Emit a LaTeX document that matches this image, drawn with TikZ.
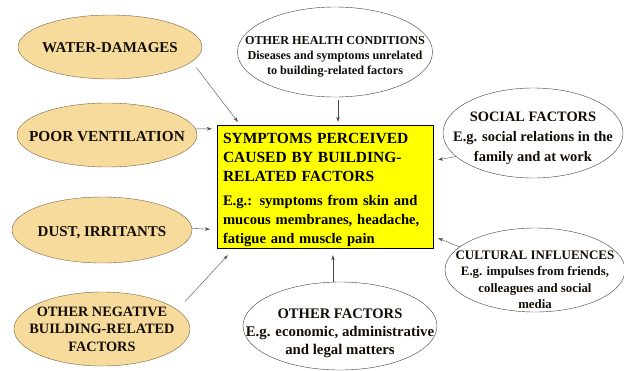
\documentclass[tikz,border=0pt]{standalone}
\usepackage{fontspec}
\setmainfont{Liberation Serif}
\usepackage{xcolor}
\usetikzlibrary{arrows.meta,shapes.geometric}

\definecolor{tanfill}{RGB}{246,219,156}
\definecolor{tanline}{RGB}{120,100,70}
\definecolor{coreyellow}{RGB}{255,255,0}

\begin{document}
\begin{tikzpicture}[
  x=1pt, y=-1pt,
  cause/.style={ellipse, draw=tanline, fill=tanfill, inner sep=0pt},
  influence/.style={ellipse, draw=black!75, fill=white, inner sep=0pt},
  txt/.style={inner sep=0pt, align=center, font=\bfseries, text=black!90!brown},
  core/.style={draw, fill=coreyellow, minimum width=216pt, minimum height=123pt, inner sep=0pt},
  coretxt/.style={inner sep=0pt, text width=204pt, align=left},
  arr/.style={-{Stealth[length=5pt,width=3.5pt]}, thin, black!70}
]
\useasboundingbox (0,0) rectangle (624,370);

% building-related causes
\node[cause, minimum width=184pt, minimum height=64pt] (water) at (110,47) {};
\node[cause, minimum width=180pt, minimum height=64pt] (vent) at (107,135) {};
\node[cause, minimum width=180pt, minimum height=66pt] (dust) at (102,230) {};
\node[cause, minimum width=176pt, minimum height=74pt] (negative) at (102,329) {};
\node[txt, font=\fontsize{15}{18}\selectfont\bfseries] (waterlbl) at ([yshift=-1pt]water) {WATER-DAMAGES};
\node[txt, font=\fontsize{15.3}{18}\selectfont\bfseries] (ventlbl) at ([yshift=-2pt]vent) {POOR VENTILATION};
\node[txt, font=\fontsize{15}{18}\selectfont\bfseries] (dustlbl) at ([yshift=-3pt]dust) {DUST, IRRITANTS};
\node[txt, font=\fontsize{14.3}{17.5}\selectfont\bfseries] (negativelbl) at (negative) {OTHER NEGATIVE\\BUILDING-RELATED\\FACTORS};

% central box
\node[core] (symptoms) at (325,186.5) {};
\node[coretxt, font=\fontsize{14.6}{19}\selectfont\bfseries] (symptomslbl) at ([yshift=-3.5pt]symptoms) {{\fontsize{15.5}{19}\selectfont SYMPTOMS PERCEIVED\\CAUSED BY BUILDING-\\RELATED FACTORS}\\[5pt]
  E.g.: symptoms from skin and\\mucous membranes, headache,\\fatigue and muscle pain};

% other influences
\node[influence, minimum width=195pt, minimum height=90pt] (health) at (335,52) {};
\node[influence, minimum width=180pt, minimum height=90pt] (social) at (533,133) {};
\node[influence, minimum width=180pt, minimum height=84pt] (cultural) at (535,270) {};
\node[influence, minimum width=194pt, minimum height=88pt] (otherf) at (340,326) {};
\node[txt, font=\fontsize{12.2}{15}\selectfont\bfseries] (healthlbl) at ([yshift=-5pt]health) {{\fontsize{12.2}{15}\selectfont OTHER HEALTH CONDITIONS}\\Diseases and symptoms unrelated\\to building-related factors};
\node[txt, font=\fontsize{14.5}{20}\selectfont\bfseries] (sociallbl) at ([yshift=-5pt]social) {{\fontsize{14.4}{20}\selectfont SOCIAL FACTORS}\\E.g. social relations in the\\family and at work};
\node[txt, font=\fontsize{12.8}{16.5}\selectfont\bfseries] (culturallbl) at ([yshift=-10pt]cultural) {{\fontsize{13}{16.5}\selectfont CULTURAL INFLUENCES}\\E.g. impulses from friends,\\colleagues and social\\media};
\node[txt, font=\fontsize{14.8}{18}\selectfont\bfseries] (otherflbl) at ([yshift=-7pt]otherf) {{\fontsize{14.6}{18}\selectfont OTHER FACTORS}\\E.g. economic, administrative\\and legal matters};

% arrows into the box
\draw[arr] ([xshift=15pt]water.-16) -- ([xshift=21pt,yshift=3pt]symptoms.north west);
\draw[arr] (vent.4) -- ([xshift=-5pt,yshift=-4pt]symptoms.north west);
\draw[arr] (dust.1) -- ([xshift=-7pt,yshift=19pt]symptoms.south west);
\draw[arr] ([xshift=24pt]negative.25) -- ([xshift=11pt,yshift=-7pt]symptoms.south west);
\draw[arr, shorten <=3pt] ([xshift=3pt]health.south) -- ([xshift=3pt,yshift=3pt]health.south |- symptoms.north);
\draw[arr] (social.197) -- ([xshift=5pt,yshift=-35pt]symptoms.north east);
\draw[arr] (cultural.163) -- ([xshift=5pt,yshift=10pt]symptoms.south east);
\draw[arr] ([xshift=-7pt]otherf.north) -- ([xshift=-7pt,yshift=-7pt]otherf.north |- symptoms.south);
\end{tikzpicture}
\end{document}
